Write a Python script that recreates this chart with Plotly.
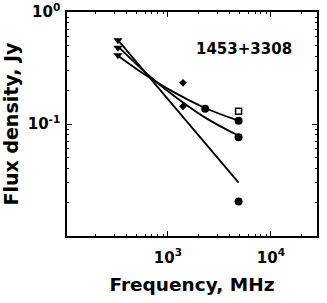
import plotly.graph_objects as go

# ---- data ----
tri_freq = [327, 327, 327]
tri_flux = [0.56, 0.48, 0.41]
dia_freq = [1400, 1400]
dia_flux = [0.233, 0.144]
circ_freq = [2300, 4850, 4850, 4850]
circ_flux = [0.137, 0.107, 0.076, 0.0203]
sq_freq = [4850]
sq_flux = [0.130]

steep_freq = [327, 4850]
steep_flux = [0.56, 0.030]
curve_freq = [327, 600, 1000, 2300, 4850]
mid_flux = [0.493, 0.290, 0.196, 0.114, 0.0785]
up_flux = [0.407, 0.275, 0.206, 0.139, 0.107]

source_name = "1453+3308"
x_major = [1e3, 1e4]
x_major_text = ["10<sup>3</sup>", "10<sup>4</sup>"]
y_major = [1e-2, 1e-1, 1e0]
y_major_text = ["", "10<sup>-1</sup>", "10<sup>0</sup>"]
x_minor = [200, 300, 400, 500, 600, 700, 800, 900,
           2000, 3000, 4000, 5000, 6000, 7000, 8000, 9000, 20000]
y_minor = [0.02, 0.03, 0.04, 0.05, 0.06, 0.07, 0.08, 0.09,
           0.2, 0.3, 0.4, 0.5, 0.6, 0.7, 0.8, 0.9]

FONT = "DejaVu Sans"
fig = go.Figure()

fig.add_trace(go.Scatter(x=steep_freq, y=steep_flux, mode="lines",
                         line=dict(color="black", width=1.8)))
fig.add_trace(go.Scatter(x=curve_freq, y=mid_flux, mode="lines",
                         line=dict(color="black", width=1.8, shape="spline")))
fig.add_trace(go.Scatter(x=curve_freq, y=up_flux, mode="lines",
                         line=dict(color="black", width=1.8, shape="spline")))

fig.add_trace(go.Scatter(x=tri_freq, y=tri_flux, mode="markers",
                         marker=dict(symbol="triangle-down", size=8, color="black")))
fig.add_trace(go.Scatter(x=dia_freq, y=dia_flux, mode="markers",
                         marker=dict(symbol="diamond", size=6, color="black")))
fig.add_trace(go.Scatter(x=circ_freq, y=circ_flux, mode="markers",
                         marker=dict(symbol="circle", size=8, color="black")))
fig.add_trace(go.Scatter(x=sq_freq, y=sq_flux, mode="markers",
                         marker=dict(symbol="square-open", size=6, color="black",
                                     line=dict(width=1.5))))

fig.add_annotation(x=0.708, y=0.835, xref="paper", yref="paper", text=source_name,
                   showarrow=False, xanchor="center", yanchor="middle",
                   font=dict(family=FONT, size=15, color="black", weight="bold"))

axis_common = dict(
    showline=True, linecolor="black", linewidth=1.5, mirror="ticks",
    ticks="inside", ticklen=5, tickwidth=1, tickcolor="black",
    showgrid=False, zeroline=False, automargin=False,
    tickfont=dict(family=FONT, size=15, color="black", weight="bold"),
)

fig.update_xaxes(type="log", range=[2.02, 4.447], tickmode="array",
                 tickvals=x_major, ticktext=x_major_text, ticklabelstandoff=7,
                 minor=dict(tickmode="array", tickvals=x_minor, ticks="inside",
                            ticklen=2.5, tickcolor="black", tickwidth=1),
                 title=dict(text="Frequency, MHz", standoff=12,
                            font=dict(family=FONT, size=18.5, color="black", weight="bold")),
                 **axis_common)
fig.update_yaxes(type="log", range=[-2.0, 0.0], tickmode="array",
                 tickvals=y_major, ticktext=y_major_text, ticklabelstandoff=2,
                 minor=dict(tickmode="array", tickvals=y_minor, ticks="inside",
                            ticklen=2.5, tickcolor="black", tickwidth=1),
                 title=dict(text="Flux density, Jy", standoff=8,
                            font=dict(family=FONT, size=19, color="black", weight="bold")),
                 **axis_common)

fig.update_layout(width=327, height=303, showlegend=False,
                  margin=dict(l=67, r=10, t=12, b=67, autoexpand=False),
                  paper_bgcolor="white", plot_bgcolor="white")

fig.write_html("out.html", config={"displayModeBar": False},
               post_script="document.body.style.margin='0';")
